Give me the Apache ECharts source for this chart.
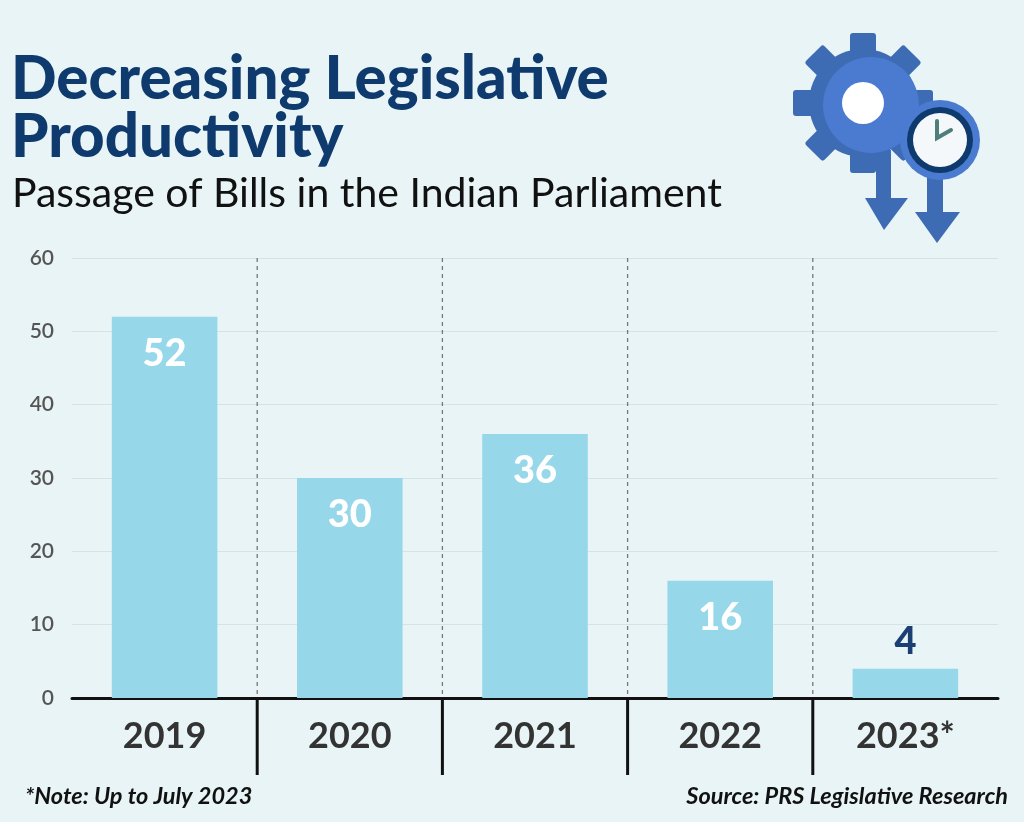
<!DOCTYPE html>
<html><head><meta charset="utf-8">
<script src="https://cdn.jsdelivr.net/npm/echarts@6/dist/echarts.min.js"></script>
<style>html,body{margin:0;padding:0;background:#e8f4f5}#c{width:1024px;height:822px}</style>
</head><body><div id="c"></div>
<script>
const categories = ['2019','2020','2021','2022','2023*'];
const billsPassed = [52, 30, 36, 16, 4];
const yTicks = [0,10,20,30,40,50,60];

const chart = echarts.init(document.getElementById('c'));
const font = 'Lato, "Noto Sans", sans-serif';

function gear(){
  const els = [];
  const cx=863, cy=103;
  for(let i=0;i<8;i++){
    const a = i*Math.PI/4;
    els.push({type:'rect', x:cx, y:cy, originX:0, originY:0, rotation:-a,
      shape:{x:-13, y:-70, width:26, height:30, r:3}, style:{fill:'#3d6cb5'}, z:10});
  }
  els.push({type:'circle', shape:{cx:cx,cy:cy,r:54}, style:{fill:'#3d6cb5'}, z:10});
  els.push({type:'circle', shape:{cx:cx+8,cy:cy+2,r:48}, style:{fill:'#4a7bd0'}, z:11});
  els.push({type:'circle', shape:{cx:cx,cy:cy,r:21}, style:{fill:'#ffffff'}, z:12});
  els.push({type:'polygon', shape:{points:[[876,150],[891,150],[891,198],[908,198],[884,230],[865,198],[876,198]]}, style:{fill:'#3d6cb5'}, z:9});
  els.push({type:'polygon', shape:{points:[[927,175],[943,175],[943,212],[960,212],[937,243],[915,212],[927,212]]}, style:{fill:'#3d6cb5'}, z:9});
  els.push({type:'circle', shape:{cx:940,cy:140,r:40}, style:{fill:'#4a7bd0'}, z:13});
  els.push({type:'circle', shape:{cx:940,cy:140,r:33}, style:{fill:'#0e3a6e'}, z:14});
  els.push({type:'circle', shape:{cx:940,cy:140,r:27}, style:{fill:'#f4f8fb'}, z:15});
  els.push({type:'polyline', shape:{points:[[937,121],[937,138],[951,130]]}, style:{stroke:'#4f7d7a', lineWidth:4, lineCap:'round', fill:null}, z:16});
  return els;
}

const option = {
  backgroundColor:'#e8f4f5',
  animation:false,
  title:[
    {text:'Decreasing Legislative\nProductivity', left:6, top:46, textStyle:{fontFamily:font, fontWeight:900, fontSize:60, color:'#0e3a6e', lineHeight:58}},
    {text:'Passage of Bills in the Indian Parliament', left:7, top:168, textStyle:{fontFamily:font, fontWeight:400, fontSize:41, color:'#111'}}
  ],
  grid:{left:72, right:26, top:258, bottom:124},
  xAxis:{type:'category', data:categories,
    axisLine:{lineStyle:{color:'#111', width:3}}, axisTick:{show:false},
    axisLabel:{margin:20, fontFamily:font, fontWeight:700, fontSize:36, color:'#333'}},
  yAxis:{type:'value', min:0, max:60, interval:10,
    axisLabel:{fontFamily:font, fontSize:21, color:'#555', margin:18, fontWeight:600},
    splitLine:{lineStyle:{color:'#d3e3e6', width:1}}, axisLine:{show:false}},
  series:[{type:'bar', data:billsPassed.map((v,i)=>{
      if(v<10) return {value:v, label:{position:'top', color:'#1b3f73', distance:8}};
      return v;
    }), barWidth:'57%',
    itemStyle:{color:'#96d7ea'},
    label:{show:true, position:'insideTop', distance:18, color:'#fff', fontFamily:font, fontWeight:900, fontSize:38}}]
};
chart.setOption(option);

const els = gear();
const y0 = chart.convertToPixel({yAxisIndex:0}, 0);
const yTop = chart.convertToPixel({yAxisIndex:0}, 60);
for(let i=0;i<categories.length-1;i++){
  const x = (chart.convertToPixel({xAxisIndex:0}, i) + chart.convertToPixel({xAxisIndex:0}, i+1))/2;
  els.push({type:'line', shape:{x1:x,y1:yTop,x2:x,y2:y0}, style:{stroke:'#777', lineWidth:1.3, lineDash:[4,4]}, z:1});
  els.push({type:'line', shape:{x1:x,y1:y0,x2:x,y2:y0+77}, style:{stroke:'#111', lineWidth:3}, z:5});
}
els.push({type:'text', left:25, top:785, style:{text:'*Note: Up to July 2023', font:'italic 700 23.5px '+font, fill:'#111'}});
els.push({type:'text', right:16, top:785, style:{text:'Source: PRS Legislative Research', font:'italic 700 23.5px '+font, fill:'#111'}});
chart.setOption({graphic:{elements:els}});
</script></body></html>
